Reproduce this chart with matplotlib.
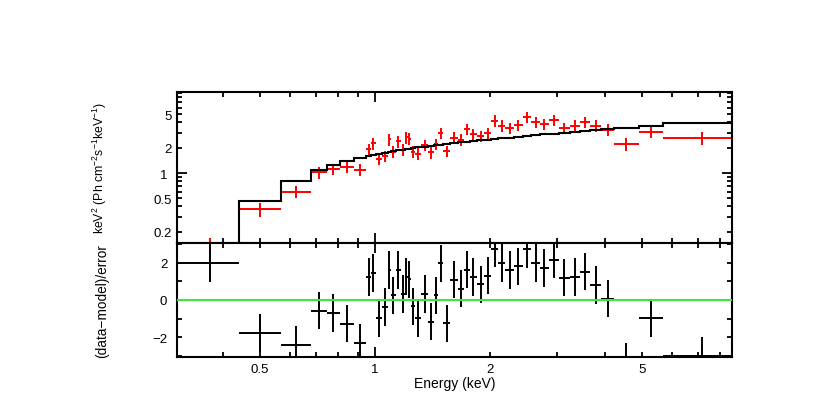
import numpy as np
import matplotlib
matplotlib.use("Agg")
import matplotlib.pyplot as plt
from matplotlib.ticker import FixedLocator, FixedFormatter

plt.rcParams.update({
    "font.family": ["Liberation Sans", "DejaVu Sans"],
    "mathtext.fontset": "custom",
    "mathtext.rm": "Liberation Sans",
    "mathtext.it": "Liberation Sans:italic",
    "axes.linewidth": 1.5,
})

# ── data ──────────────────────────────────────────────────────────────────────
bin_lo = [0.300, 0.439, 0.567, 0.679, 0.748, 0.811, 0.879, 0.947, 0.975, 1.005,
          1.044, 1.078, 1.103, 1.132, 1.167, 1.196, 1.217, 1.239, 1.273, 1.321,
          1.374, 1.423, 1.464, 1.508, 1.570, 1.645, 1.711, 1.772, 1.845, 1.932,
          2.016, 2.099, 2.194, 2.310, 2.437, 2.563, 2.701, 2.852, 3.025, 3.229,
          3.435, 3.652, 3.913, 4.220, 4.900, 5.660]
bin_hi = bin_lo[1:] + [9.08]
energy = [0.370, 0.500, 0.621, 0.712, 0.777, 0.843, 0.911, 0.961, 0.990, 1.024,
          1.061, 1.090, 1.117, 1.149, 1.181, 1.206, 1.228, 1.256, 1.297, 1.347,
          1.398, 1.443, 1.486, 1.539, 1.607, 1.678, 1.741, 1.808, 1.888, 1.974,
          2.057, 2.146, 2.251, 2.373, 2.499, 2.631, 2.775, 2.937, 3.125, 3.330,
          3.542, 3.780, 4.064, 4.550, 5.270, 7.170]
flux = [0.13, 0.373, 0.60, 1.02, 1.116, 1.17, 1.09, 1.93, 2.25, 1.47,
        1.60, 2.52, 1.80, 2.38, 1.90, 2.66, 2.56, 1.80, 1.70, 2.16,
        1.76, 2.21, 2.98, 1.83, 2.63, 2.49, 3.34, 2.91, 2.73, 2.97,
        4.20, 3.66, 3.41, 3.73, 4.60, 4.01, 3.83, 4.27, 3.41, 3.66,
        4.01, 3.66, 3.28, 2.21, 3.10, 2.61]
flux_err = [0.038, 0.07, 0.10, 0.16, 0.16, 0.17, 0.18, 0.30, 0.35, 0.23,
            0.25, 0.40, 0.28, 0.37, 0.30, 0.42, 0.40, 0.28, 0.27, 0.34,
            0.28, 0.35, 0.46, 0.29, 0.41, 0.39, 0.52, 0.45, 0.42, 0.46,
            0.65, 0.57, 0.53, 0.58, 0.71, 0.62, 0.59, 0.66, 0.53, 0.57,
            0.62, 0.57, 0.55, 0.40, 0.52, 0.48]
model = [0.055, 0.468, 0.81, 1.086, 1.256, 1.38, 1.51, 1.60, 1.64, 1.70,
         1.75, 1.79, 1.82, 1.86, 1.90, 1.93, 1.95, 1.98, 2.02, 2.06,
         2.10, 2.14, 2.17, 2.21, 2.26, 2.31, 2.35, 2.39, 2.44, 2.49,
         2.54, 2.59, 2.64, 2.70, 2.76, 2.82, 2.88, 2.95, 3.02, 3.10,
         3.17, 3.24, 3.32, 3.43, 3.60, 3.94]
resid = [1.97, -1.76, -2.40, -0.57, -0.69, -1.26, -2.27, 1.22, 1.44, -0.97,
         -0.37, 1.59, 0.25, 1.61, 0.33, 1.25, 1.10, -0.34, -0.97, 0.32,
         -1.16, 0.24, 1.95, -1.25, 1.08, 0.60, 1.62, 1.22, 0.83, 1.30,
         2.74, 1.98, 1.59, 1.80, 2.72, 1.97, 1.72, 2.15, 1.19, 1.22,
         1.51, 0.79, 0.07, -3.30, -0.96, -3.00]

x_major = [1]
x_minor = [0.4, 0.5, 0.6, 0.7, 0.8, 0.9, 2, 3, 4, 5, 6, 7, 8]
x_minor_labels = ["", "0.5", "", "", "", "", "2", "", "", "5", "", "", ""]
y_major = [1]
y_minor = [0.2, 0.3, 0.4, 0.5, 0.6, 0.7, 0.8, 0.9, 2, 3, 4, 5, 6, 7, 8, 9]
y_minor_labels = ["0.2", "", "", "0.5", "", "", "", "", "2", "", "", "5", "", "", "", ""]

energy = np.array(energy)
xerr = [energy - np.array(bin_lo), np.array(bin_hi) - energy]

fig = plt.figure(figsize=(8.3, 4.14), dpi=100)
ax1 = fig.add_axes([0.2133, 0.4106, 0.6687, 0.3648])
ax2 = fig.add_axes([0.2133, 0.1353, 0.6687, 0.2753], sharex=ax1)

# top: unfolded spectrum + model
ax1.stairs(model, bin_lo + [bin_hi[-1]], baseline=None, color="black", lw=1.5, zorder=3)
ax1.errorbar(energy, flux, xerr=xerr, yerr=flux_err, fmt="none",
             ecolor="#ff0000", elinewidth=1.4, capsize=0, zorder=2)
ax1.set_xscale("log")
ax1.set_yscale("log")
ax1.set_xlim(0.303, 8.6)
ax1.set_ylim(0.147, 9.2)

# bottom: residuals
ax2.errorbar(energy, resid, xerr=xerr, yerr=1.0, fmt="none",
             ecolor="black", elinewidth=1.4, capsize=0, zorder=2)
ax2.axhline(0, color="#3ce63c", lw=1.5, zorder=3)
ax2.set_ylim(-3.04, 3.04)
ax2.set_yticks([-2, 0, 2])
ax2.set_yticks([-3, -1, 1, 3], minor=True)

for ax in (ax1, ax2):
    ax.xaxis.set_major_locator(FixedLocator(x_major))
    ax.xaxis.set_minor_locator(FixedLocator(x_minor))
    ax.xaxis.set_major_formatter(FixedFormatter(["1"]))
    ax.xaxis.set_minor_formatter(FixedFormatter(x_minor_labels))
    ax.tick_params(which="both", direction="in", top=True, right=True,
                   width=1.3, labelsize=9.5, pad=4)
    ax.tick_params(which="major", length=7)
    ax.tick_params(which="minor", length=3.8)
    ax.tick_params(axis="y", pad=7)

ax1.yaxis.set_major_locator(FixedLocator(y_major))
ax1.yaxis.set_minor_locator(FixedLocator(y_minor))
ax1.yaxis.set_major_formatter(FixedFormatter(["1"]))
ax1.yaxis.set_minor_formatter(FixedFormatter(y_minor_labels))
ax1.tick_params(axis="x", which="both", labelbottom=False)
ax2.tick_params(axis="y", which="both", length=3.8)

ax1.set_ylabel(r"keV$^2$ (Ph cm$^{-2}$s$^{-1}$keV$^{-1}$)", fontsize=8.8)
ax2.set_ylabel("(data\u2212model)/error", fontsize=9.8)
ax2.set_xlabel("Energy (keV)", fontsize=10, labelpad=1)
ax1.yaxis.set_label_coords(-0.122, 0.5)
ax2.yaxis.set_label_coords(-0.122, 0.5)

fig.savefig("out.png", dpi=100)
plt.close(fig)
